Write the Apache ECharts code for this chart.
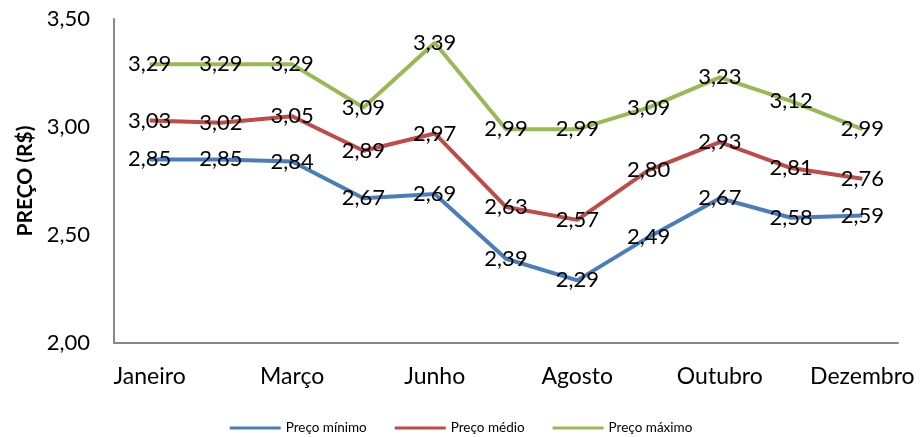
<!DOCTYPE html>
<html><head><meta charset="utf-8">
<script src="https://cdn.jsdelivr.net/npm/echarts@6/dist/echarts.min.js"></script>
<style>html,body{margin:0;padding:0;background:#fff}#c{width:922px;height:437px}</style>
</head><body><div id="c"></div>
<script>
const categories = ['Janeiro','Fevereiro','Março','Abril','Junho','Julho','Agosto','Setembro','Outubro','Novembro','Dezembro'];
const precoMinimo = [2.85,2.85,2.84,2.67,2.69,2.39,2.29,2.49,2.67,2.58,2.59];
const precoMedio  = [3.03,3.02,3.05,2.89,2.97,2.63,2.57,2.80,2.93,2.81,2.76];
const precoMaximo = [3.29,3.29,3.29,3.09,3.39,2.99,2.99,3.09,3.23,3.12,2.99];
const seriesNames = ['Preço mínimo','Preço médio','Preço máximo'];
const colors = ['#4A7EBB','#BE4B48','#98B954'];
const FONT = 'Lato';
function fmt(v){return v.toFixed(2).replace('.',',');}
function mk(name, data, color){
  return {name, type:'line', data, symbol:'circle', symbolSize:1, showSymbol:true,
    itemStyle:{color:'rgba(0,0,0,0)', borderWidth:0}, lineStyle:{color, width:4},
    label:{show:true, position:'inside', color:'#000', fontFamily:FONT, fontSize:22,
      formatter:p=>fmt(p.value)},
    emphasis:{disabled:true}, animation:false};
}
const chart = echarts.init(document.getElementById('c'));
chart.setOption({
  animation:false,
  grid:{left:114, right:24, top:19, bottom:94},
  legend:{top:416, left:'center', icon:'rect', itemWidth:51, itemHeight:3, itemGap:28,
    textStyle:{fontFamily:FONT, fontSize:13.5, color:'#000'},
    data:seriesNames.map((n,i)=>({name:n, itemStyle:{color:colors[i], opacity:1}}))},
  xAxis:{type:'category', data:categories, boundaryGap:true,
    axisLine:{lineStyle:{color:'#868686', width:2}}, axisTick:{show:false},
    axisLabel:{interval:1, color:'#000', fontFamily:FONT, fontSize:23, margin:22}},
  yAxis:{type:'value', min:2, max:3.5, interval:0.5, name:'PREÇO (R$)', nameLocation:'middle',
    nameGap:76, nameRotate:90, nameTextStyle:{fontFamily:FONT, fontSize:21, fontWeight:'bold', color:'#000'},
    axisLine:{show:true, lineStyle:{color:'#868686', width:2}}, axisTick:{show:false}, splitLine:{show:false},
    axisLabel:{color:'#000', fontFamily:FONT, fontSize:22, margin:24, formatter:v=>fmt(v)}},
  series:[mk(seriesNames[0],precoMinimo,colors[0]), mk(seriesNames[1],precoMedio,colors[1]), mk(seriesNames[2],precoMaximo,colors[2])]
});
</script></body></html>
